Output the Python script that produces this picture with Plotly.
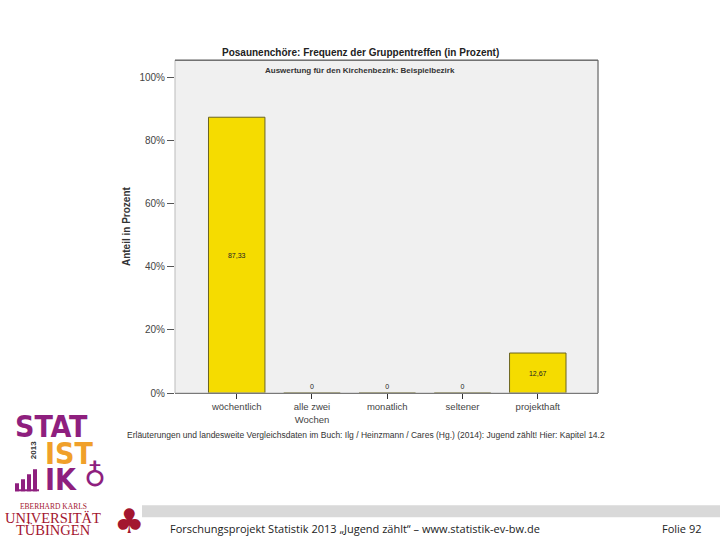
import plotly.graph_objects as go

categories = ["wöchentlich", "alle zwei<br>Wochen", "monatlich", "seltener", "projekthaft"]
values = [87.33, 0, 0, 0, 12.67]
labels = ["87,33", "0", "0", "0", "12,67"]
tick_vals = [0, 20, 40, 60, 80, 100]
tick_text = ["0%", "20%", "40%", "60%", "80%", "100%"]

W, H = 720, 540
VK = 1.012  # vertical compensation for page rendering
def px(x): return x / W
def py(y): return 1 - (y * VK) / H

fig = go.Figure()
fig.add_trace(go.Bar(
    x=list(range(len(categories))), y=values,
    text=labels,
    textposition=["inside", "outside", "outside", "outside", "inside"],
    insidetextanchor="middle",
    textfont=dict(size=7, color="#222222", family="Liberation Sans"),
    marker=dict(color="#f5dc00", line=dict(color="#6b6420", width=1)),
    width=0.75, cliponaxis=False,
))

fig.update_layout(
    width=W, height=H, margin=dict(l=0, r=0, t=0, b=0),
    paper_bgcolor="white", plot_bgcolor="#f0f0f0",
    showlegend=False,
    font=dict(family="Liberation Sans", color="#333333"),
    xaxis=dict(domain=[px(175), px(598)], range=[-0.82, 4.8],
               tickvals=list(range(len(categories))), ticktext=categories,
               ticks="outside", ticklen=5, tickcolor="#333333",
               showline=True, linecolor="#333333", linewidth=1,
               showgrid=False, zeroline=False, mirror=False,
               tickfont=dict(size=9.5, color="#444444")),
    yaxis=dict(domain=[py(392), py(60)], range=[0, 105.4],
               tickvals=tick_vals, ticktext=tick_text,
               ticks="outside", ticklen=7, tickcolor="#555555",
               showline=False, showgrid=False, zeroline=False,
               tickfont=dict(size=10, color="#444444"),
               title=dict(text="<b>Anteil in Prozent</b>", font=dict(size=10, color="#333333"), standoff=6)),
)

def note(text, x, y, size, color, family="Liberation Sans", xanchor="center", angle=0):
    fig.add_annotation(text=text, xref="paper", yref="paper", x=px(x), y=py(y),
                       xanchor=xanchor, yanchor="middle", textangle=angle,
                       showarrow=False, font=dict(size=size, color=color, family=family))

# plot frame
fig.add_shape(type="rect", xref="paper", yref="paper",
              x0=px(175), x1=px(598), y0=py(392), y1=py(60),
              line=dict(color="#bbbbbb", width=1))
fig.add_shape(type="line", xref="paper", yref="paper",
              x0=px(175), x1=px(598), y0=py(60), y1=py(60),
              line=dict(color="#444444", width=1))
fig.add_shape(type="line", xref="paper", yref="paper",
              x0=px(598), x1=px(598), y0=py(392), y1=py(60),
              line=dict(color="#666666", width=1))

# titles
note("<b>Posaunenchöre: Frequenz der Gruppentreffen (in Prozent)</b>", 360, 52, 10, "#222222")
note("<b>Auswertung für den Kirchenbezirk: Beispielbezirk</b>", 360, 70, 8, "#333333")
note("Erläuterungen und landesweite Vergleichsdaten im Buch: Ilg / Heinzmann / Cares (Hg.) (2014): Jugend zählt! Hier: Kapitel 14.2",
     125, 434, 8.5, "#333333", xanchor="left")

# footer bar and texts
fig.add_shape(type="rect", xref="paper", yref="paper",
              x0=px(142), x1=1, y0=py(516), y1=py(504),
              fillcolor="#d9d9d9", line=dict(width=0))
note("Forschungsprojekt Statistik 2013 „Jugend zählt“ – www.statistik-ev-bw.de", 168, 527, 11, "#222222",
     family="Open Sans", xanchor="left")
note("Folie 92", 703, 527, 11, "#222222", family="Open Sans", xanchor="right")

# STATISTIK logo
purple = "#8e1f7e"
orange = "#f0a02a"
logo_font = "Liberation Sans Narrow, DejaVu Sans Condensed, Liberation Sans"
note("<b>STAT</b>", 13, 425, 30, purple, family=logo_font, xanchor="left")
note("<b>IST</b>", 43, 452, 30, orange, family=logo_font, xanchor="left")
note("<b>IK</b>", 43, 478, 30, purple, family=logo_font, xanchor="left")
note("<b>♁</b>", 95, 474, 30, purple, family="DejaVu Sans")
note("<b>2013</b>", 33, 449, 8, "#333333", angle=-90)
for i, hgt in enumerate([8, 12, 17, 22]):
    fig.add_shape(type="rect", xref="paper", yref="paper",
                  x0=px(15 + i * 6), x1=px(19 + i * 6), y0=py(490), y1=py(490 - hgt),
                  fillcolor=purple, line=dict(width=0))
fig.add_shape(type="rect", xref="paper", yref="paper",
              x0=px(15), x1=px(39), y0=py(490), y1=py(488),
              fillcolor=purple, line=dict(width=0))

# University text
red = "#a3162f"
note("EBERHARD KARLS", 53, 505, 7.5, red, family="Liberation Serif")
note("UNIVERSITÄT", 53, 517, 14.5, red, family="Liberation Serif")
note("TÜBINGEN", 53, 529, 14.5, red, family="Liberation Serif")
note("♣", 129, 520, 34, red, family="DejaVu Sans")

post = """
document.body.style.margin='0';
document.documentElement.style.overflow='hidden';
document.body.style.overflow='hidden';
var g=document.querySelector('.plotly-graph-div'); if(g){g.style.overflow='hidden';}
var c=document.querySelector('.svg-container'); if(c){c.style.verticalAlign='top';}
"""
fig.write_html("out.html", config={"displayModeBar": False}, post_script=post)
